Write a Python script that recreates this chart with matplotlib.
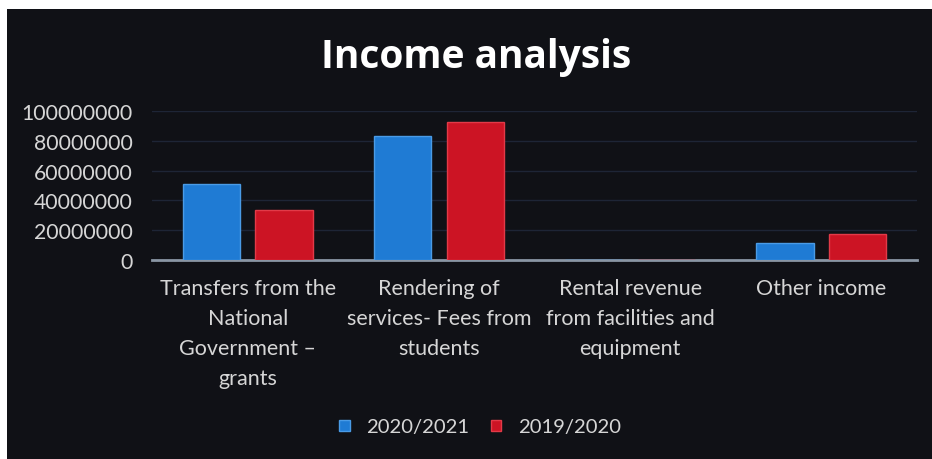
import matplotlib
matplotlib.use("Agg")
import matplotlib.pyplot as plt
import numpy as np

categories = ["Transfers from the\nNational\nGovernment \u2013\ngrants",
              "Rendering of\nservices- Fees from\nstudents",
              "Rental revenue\nfrom facilities and\nequipment",
              "Other income"]
series_names = ["2020/2021", "2019/2020"]
values_2021 = [51000000, 83000000, 0, 11500000]
values_2020 = [33500000, 92500000, 0, 17500000]
yticks = [0, 20000000, 40000000, 60000000, 80000000, 100000000]

W, H = 932, 460
plt.rcParams["font.family"] = ["Lato", "DejaVu Sans"]
fig = plt.figure(figsize=(W / 100, H / 100), dpi=100, facecolor="white")

# dark panel
bg = fig.add_axes([7 / W, 0, 1 - 7 / W, 1 - 10 / H], zorder=0)
bg.set_facecolor("#101116")
bg.set_xticks([]); bg.set_yticks([])
for s in bg.spines.values():
    s.set_visible(False)

left, right = 152 / W, 917 / W
bottom, top = 1 - 261 / H, 1 - 112 / H
ax = fig.add_axes([left, bottom, right - left, top - bottom], zorder=2)
ax.set_facecolor("none")

x = np.arange(len(categories))
w = 0.30
off = 0.19
blue, red = "#1f7bd4", "#cc1424"
ax.bar(x - off, values_2021, width=w, color=blue, edgecolor="#4a9be6", linewidth=1.0,
       label=series_names[0], zorder=3)
ax.bar(x + off, values_2020, width=w, color=red, edgecolor="#e23a48", linewidth=1.0,
       label=series_names[1], zorder=3)

ax.set_xlim(-0.5, len(categories) - 0.5)
ax.set_ylim(0, 100000000)
ax.set_yticks(yticks)
ax.set_yticklabels([str(v) for v in yticks], color="#d6d6d6", fontsize=15.3)
ax.set_xticks(x)
ax.set_xticklabels(categories, color="#d6d6d6", fontsize=15.5, linespacing=1.62, va="top")
ax.tick_params(axis="both", length=0)
ax.tick_params(axis="x", pad=13)
ax.tick_params(axis="y", pad=14)
for s in ["top", "right", "left"]:
    ax.spines[s].set_visible(False)
ax.spines["bottom"].set_color("#8a96a4")
ax.spines["bottom"].set_linewidth(2)
ax.grid(axis="y", color="#1e2536", linewidth=1, zorder=0)
ax.set_axisbelow(True)

fig.text(476 / W, 1 - 58 / H, "Income analysis", ha="center", va="center",
         fontsize=28, fontweight="bold", color="white", family=["Open Sans", "DejaVu Sans"])

leg = fig.legend(loc="center", bbox_to_anchor=(480 / W, 1 - 428 / H), ncol=2, frameon=False,
                 fontsize=14.6, labelcolor="#d6d6d6", handlelength=0.5, handleheight=0.5,
                 handletextpad=0.8, columnspacing=1.1)
plt.savefig("out.png", dpi=100, facecolor="white")
